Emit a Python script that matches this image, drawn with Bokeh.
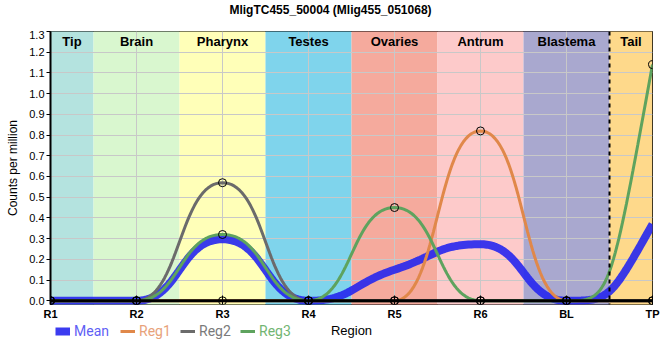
import numpy as np
from bokeh.plotting import figure
from bokeh.layouts import column
from bokeh.models import (Range1d, FixedTicker, Legend, LegendItem, Span, ColumnDataSource, Label)
from bokeh.core.properties import value
from bokeh.embed import file_html
from bokeh.resources import INLINE

# ---------------- data ----------------
regions = ["R1", "R2", "R3", "R4", "R5", "R6", "BL", "TP"]
band_names = ["Tip", "Brain", "Pharynx", "Testes", "Ovaries", "Antrum", "Blastema", "Tail"]
band_colors = ["#b4e3df", "#d9f7cf", "#ffffb8", "#7fd4ec", "#f5aa9d", "#fdcaca", "#a9a8cf", "#fed98b"]
mean_vals = [0.0, 0.0, 0.297, 0.0, 0.15, 0.273, 0.0, 0.37]
reg1_vals = [0.0, 0.0, 0.0, 0.0, 0.0, 0.82, 0.0, 0.0]
reg2_vals = [0.0, 0.0, 0.57, 0.0, 0.0, 0.0, 0.0, 0.0]
reg3_vals = [0.0, 0.0, 0.32, 0.0, 0.45, 0.0, 0.0, 1.14]
series_names = ["Mean", "Reg1", "Reg2", "Reg3"]
series_colors = ["#2626ee", "#e0884a", "#6b6b6b", "#5ea35e"]
label_colors = ["#5f5ff5", "#e8a27a", "#7a7a7a", "#72b572"]
y_ticks = [round(0.1 * i, 1) for i in range(14)]
title_text = "MligTC455_50004 (Mlig455_051068)"


def smooth(xs, ys, n=40):
    """Bezier smoothing with horizontal handles (rendering only)."""
    xs = np.asarray(xs, float)
    ys = np.asarray(ys, float)
    k = len(xs)
    h = np.diff(xs)
    d = np.diff(ys) / h
    m = np.zeros(k)
    for i in range(1, k - 1):
        s0, s1 = d[i - 1], d[i]
        if s0 * s1 > 0:
            m[i] = np.sign(s0) * min(2 * abs(s0), 2 * abs(s1), abs(s0 + s1) / 2)
    m[0] = 2 * d[0]
    m[-1] = 2 * d[-1]
    px, py = [], []
    t = np.linspace(0, 1, n)
    for i in range(k - 1):
        x0, x3 = xs[i], xs[i + 1]
        y0, y3 = ys[i], ys[i + 1]
        a = 0.5 * h[i]
        x1, y1 = x0 + a, y0 + a * m[i]
        x2, y2 = x3 - a, y3 - a * m[i + 1]
        b0 = (1 - t) ** 3
        b1 = 3 * (1 - t) ** 2 * t
        b2 = 3 * (1 - t) * t ** 2
        b3 = t ** 3
        px.extend(b0 * x0 + b1 * x1 + b2 * x2 + b3 * x3)
        py.extend(b0 * y0 + b1 * y1 + b2 * y2 + b3 * y3)
    return px, py


xpos = list(range(len(regions)))
xmax = len(regions) - 1
W = 660
ML, MR = 50, 8


def strip(height):
    s = figure(width=W, height=height, output_backend="svg", toolbar_location=None,
               x_range=Range1d(ML, W - MR), y_range=Range1d(height, 0),
               x_axis_location=None, y_axis_location=None,
               min_border_left=ML, min_border_right=MR,
               min_border_top=0, min_border_bottom=0)
    s.grid.visible = False
    s.outline_line_color = None
    return s


# ---------- title strip ----------
TH = 30
top = strip(TH)
top.add_layout(Label(x=W / 2, y=9, text=title_text, text_align="center",
                     text_baseline="middle", text_font="Liberation Sans",
                     text_font_size="12px", text_font_style="bold", text_color="black"))

# ---------- main plot ----------
p = figure(width=W, height=292, output_backend="svg", toolbar_location=None,
           x_range=Range1d(0, xmax), y_range=Range1d(-0.018, 1.3),
           min_border_left=ML, min_border_right=MR, min_border_top=1, min_border_bottom=18)

# background bands
lefts = np.clip(np.array(xpos) - 0.5, 0, xmax)
rights = np.clip(np.array(xpos) + 0.5, 0, xmax)
bsrc = ColumnDataSource(dict(left=lefts, right=rights, color=band_colors, name=band_names,
                             cx=(lefts + rights) / 2, top=[1.3] * len(lefts)))
p.quad(left="left", right="right", bottom=-0.1, top=1.4, fill_color="color", line_color=None,
       source=bsrc, level="image")
p.text(x="cx", y="top", text="name", source=bsrc, text_align="center", text_baseline="middle",
       y_offset=10, text_font=value("Liberation Sans"), text_font_size="13px",
       text_font_style="bold", text_color="black")

# grid
p.xgrid.ticker = FixedTicker(ticks=xpos)
p.ygrid.ticker = FixedTicker(ticks=y_ticks)
p.grid.grid_line_color = "#c8c8c8"
p.grid.grid_line_alpha = 1.0
p.grid.grid_line_width = 1

# lines
all_vals = [mean_vals, reg1_vals, reg2_vals, reg3_vals]
widths = [8, 3, 3, 3]
alphas = [0.9, 1, 1, 1]
for vals, col, lw, al in zip(all_vals, series_colors, widths, alphas):
    sx, sy = smooth(xpos, vals)
    p.line(sx, sy, line_color=col, line_width=lw, line_alpha=al)

for vals in all_vals[1:]:
    p.scatter(xpos, vals, size=8, marker="circle", fill_alpha=0, line_color="black", line_width=1)

# dashed separator and zero line
p.add_layout(Span(location=6.5, dimension="height", line_color="black", line_width=2,
                  line_dash="4 4"))
p.add_layout(Span(location=0, dimension="width", line_color="black", line_width=3))

p.outline_line_color = "black"
p.outline_line_width = 1
p.outline_line_alpha = 1

# axes
xa = p.xaxis[0]
xa.ticker = FixedTicker(ticks=xpos)
xa.major_label_overrides = {i: r for i, r in enumerate(regions)}
xa.axis_line_alpha = 0
xa.major_tick_in = 9
xa.major_tick_out = 0
xa.major_tick_line_color = "black"
xa.minor_tick_line_color = None
xa.major_label_text_font = "Liberation Sans"
xa.major_label_text_font_size = "11px"
xa.major_label_text_font_style = "bold"
xa.major_label_text_color = "black"
xa.major_label_standoff = 3

ya = p.yaxis[0]
ya.ticker = FixedTicker(ticks=y_ticks)
ya.major_label_overrides = {t: f"{t:.1f}" for t in y_ticks}
ya.axis_line_color = "black"
ya.axis_line_width = 2
ya.major_tick_in = 0
ya.major_tick_out = 4
ya.major_tick_line_color = "black"
ya.minor_tick_line_color = None
ya.major_label_text_font = "Liberation Sans"
ya.major_label_text_font_size = "11px"
ya.major_label_text_color = "black"
ya.major_label_standoff = 2
ya.axis_label = "Counts per million"
ya.axis_label_text_font = "Liberation Sans"
ya.axis_label_text_font_size = "12px"
ya.axis_label_text_font_style = "normal"
ya.axis_label_text_color = "black"
ya.axis_label_standoff = 6

# ---------- legend strip + x axis title ----------
SH = 38
leg = strip(SH)
leg_x = [5, 70, 130, 190]
for name, col, lcol, lw, al, xo in zip(series_names, series_colors, label_colors, widths, alphas, leg_x):
    dummy = leg.line(x=[-20, -10], y=[-20, -20], line_color=col, line_width=lw, line_alpha=al)
    lg = Legend(items=[LegendItem(label=name, renderers=[dummy])], location=(xo, 21),
                orientation="horizontal", padding=0, margin=0, spacing=0,
                glyph_width=15, glyph_height=16, label_height=16, label_standoff=4,
                label_text_font="Roboto", label_text_font_size="14px",
                label_text_color=lcol, border_line_alpha=0, background_fill_alpha=0)
    leg.add_layout(lg, "center")

leg.add_layout(Label(x=(ML + W - MR) / 2, y=8, text="Region", text_align="center",
                     text_baseline="middle", text_font="Liberation Sans",
                     text_font_size="13px", text_color="black"))

layout = column(top, p, leg, spacing=0)
open("out.html", "w").write(file_html(layout, INLINE))
